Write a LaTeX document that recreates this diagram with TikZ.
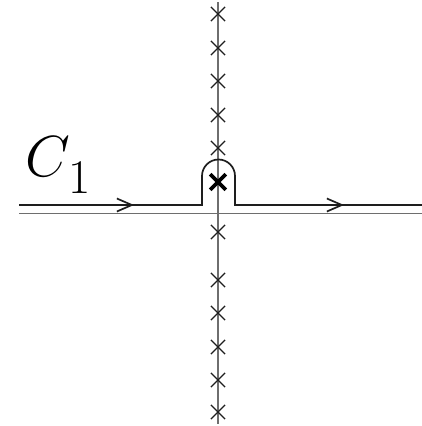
\documentclass[tikz,border=0pt]{standalone}
\usepackage{amsmath, amssymb}
\usepackage{tikz}
\usetikzlibrary{arrows.meta, shapes.misc}
\definecolor{axisGray}{RGB}{110, 110, 110}
\definecolor{contourBlack}{RGB}{30, 30, 30}

\begin{document}
\begin{tikzpicture}[x=1pt, y=-1pt,
    axis/.style={axisGray, line width=1.2pt},
    contour/.style={contourBlack, line width=1.7pt},
    flow/.style={contour, -{Straight Barb[length=15pt, width=13pt, line width=1.7pt]}},
    pole/.style={cross out, draw=contourBlack, line width=1.2pt, minimum size=13pt, inner sep=0pt},
    bigpole/.style={cross out, draw=black, line width=3.6pt, minimum size=12pt, inner sep=0pt}]
        \useasboundingbox (0,0) rectangle (422,426);
        \draw[axis] (19,213.5) -- (422,213.5);
        \draw[axis] (218,2) -- (218,424);
        \foreach \y [count=\i] in {14,48,81,115,148}
            \node[pole] (up\i) at (218,\y) {};
        \foreach \y [count=\i] in {232,280,313,347,380,412}
            \node[pole] (down\i) at (218,\y) {};
        \node[bigpole] (origin) at (218,182) {};
        \draw[contour] (19,205) -- (202,205) -- (202,176) arc (180:360:16.5) -- (235,205) -- (422,205);
        \draw[flow] (100,205) -- (134,205);
        \draw[flow] (300,205) -- (344,205);
        \node[anchor=base west, inner sep=0pt, font=\Huge, scale=2.33] (label) at (25,176) {$C$\kern-0.6pt\raisebox{-7.3pt}{\huge 1}};
      \end{tikzpicture}
\end{document}
